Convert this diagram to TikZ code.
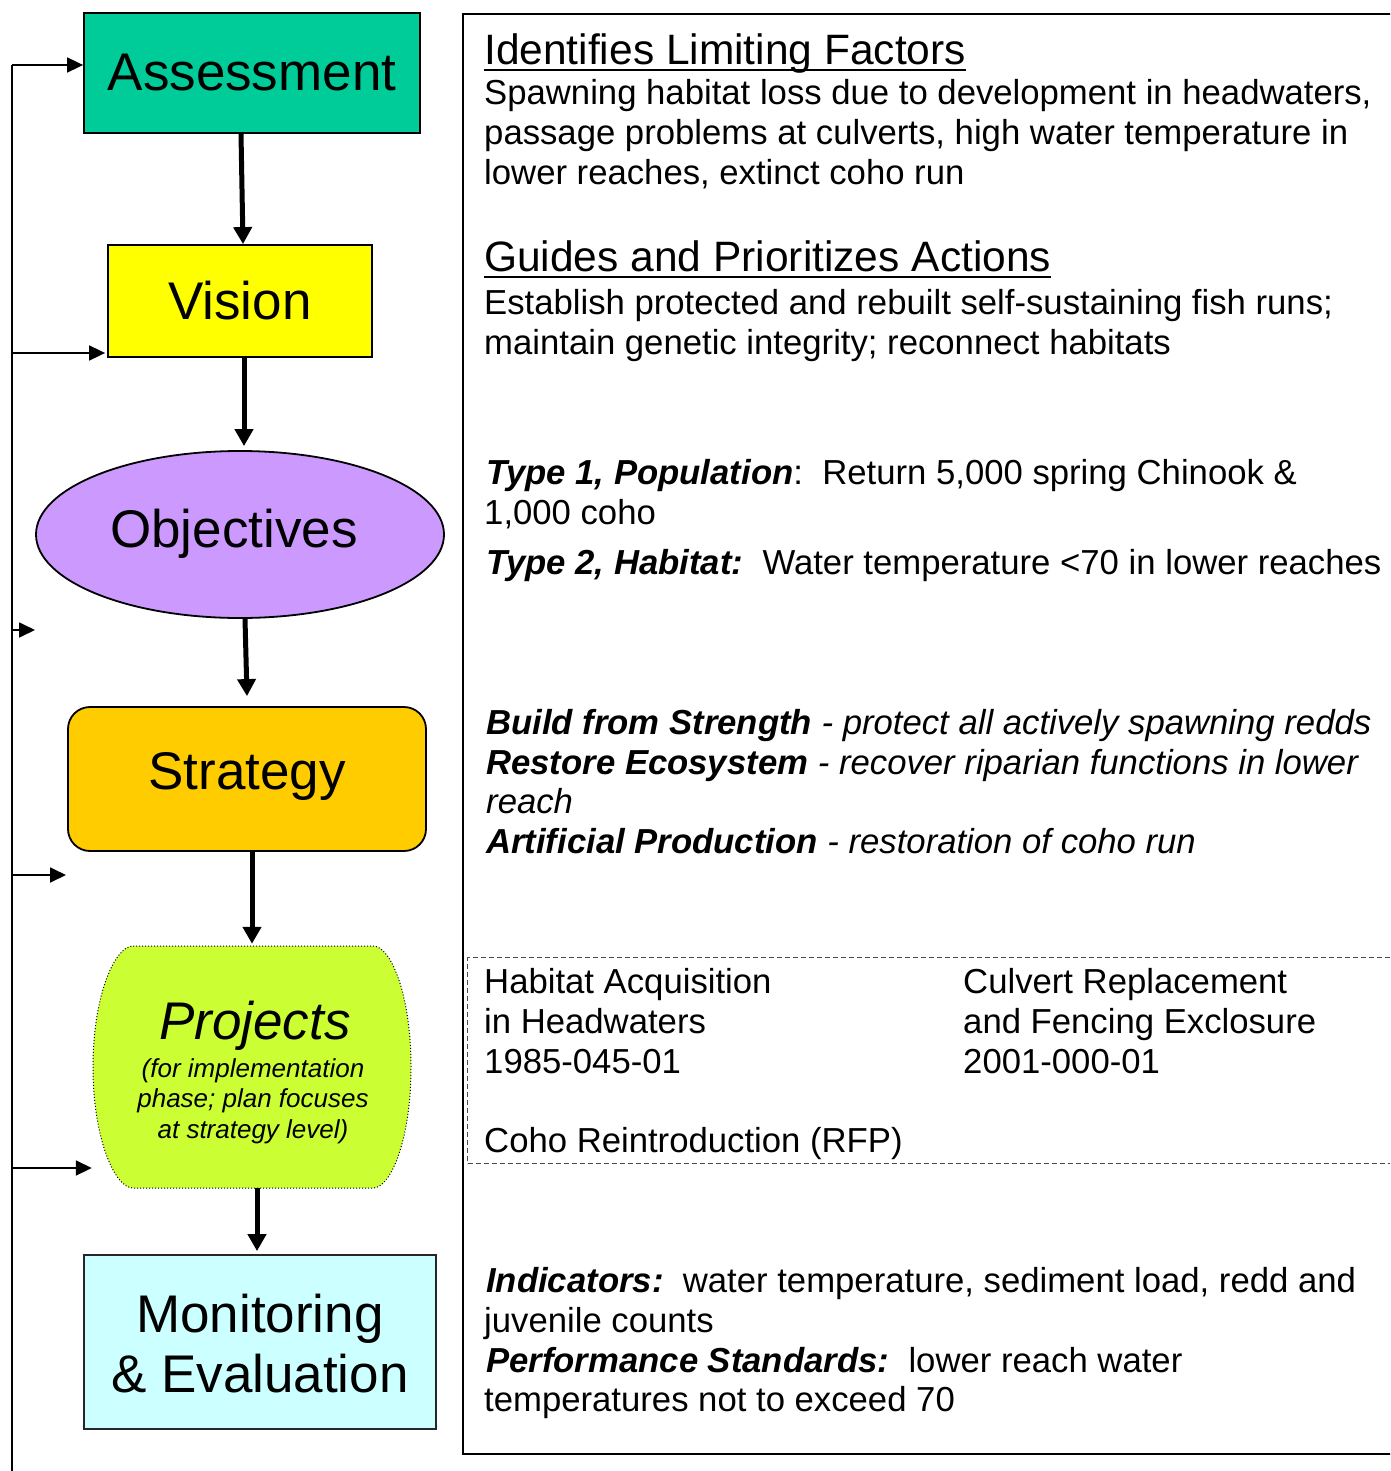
\documentclass[tikz,border=0pt]{standalone}
\usepackage{fontspec}
\setmainfont{Liberation Sans}
\usetikzlibrary{arrows.meta,shapes.geometric}
\definecolor{assesscol}{HTML}{00CC99}
\definecolor{visioncol}{HTML}{FFFF00}
\definecolor{objcol}{HTML}{CC99FF}
\definecolor{stratcol}{HTML}{FFCC00}
\definecolor{projcol}{HTML}{CCFF33}
\definecolor{mecol}{HTML}{CCFFFF}
\begin{document}
\begin{tikzpicture}[x=1pt,y=-1pt,
  box/.style={draw=black, line width=1.8pt, inner sep=0pt, font=\fontsize{53}{60}\selectfont},
  flow/.style={line width=5pt, -{Triangle[width=18pt,length=17pt]}},
  fb/.style={line width=1.8pt, -{Triangle[width=15pt,length=16pt]}},
  txt/.style={anchor=base west, inner sep=0pt, font=\fontsize{34.7}{40}\selectfont},
  headtxt/.style={anchor=base west, inner sep=0pt, font=\fontsize{42.5}{48}\selectfont},
  bigtxt/.style={anchor=base, inner sep=0pt, font=\fontsize{53}{60}\selectfont},
  smalltxt/.style={anchor=base, inner sep=0pt, font=\fontsize{26}{31}\selectfont\itshape}]
\useasboundingbox (0,0) rectangle (1390,1471);
\clip (0,0) rectangle (1390,1471);
\fill[white] (0,0) rectangle (1390,1471);

% right frames
\node[draw=black, line width=1.8pt, anchor=north west, inner sep=0pt, minimum width=960, minimum height=1440] (rb) at (462,13) {};
\node[draw=black!70, line width=1.3pt, dash pattern=on 5pt off 3pt, anchor=north west, inner sep=0pt, minimum width=950, minimum height=206] (db) at (467,957) {};

% flow nodes
\node[box, fill=assesscol, minimum width=336, minimum height=120] (a) at (252,73) {Assessment};
\node[box, fill=visioncol, minimum width=264, minimum height=112] (v) at (240,301) {Vision};
\node[box, ellipse, fill=objcol, minimum width=408, minimum height=167] (o) at (240,534.5) {};
\node[bigtxt] (ot) at (234,547) {Objectives};
\node[box, rounded corners=22pt, fill=stratcol, minimum width=358, minimum height=144] (s) at (247,779) {};
\node[bigtxt] (st) at (247,789) {Strategy};
\node[inner sep=0pt, minimum width=318, minimum height=242] (p) at (252,1067) {};
\draw[dotted, line width=1pt, fill=projcol] (133,946) -- (373,946)
  .. controls (391,946) and (411,995) .. (411,1067)
  .. controls (411,1139) and (391,1188) .. (373,1188) -- (133,1188)
  .. controls (115,1188) and (93,1139) .. (93,1067)
  .. controls (93,995) and (115,946) .. (133,946) -- cycle;
\node[bigtxt, font=\fontsize{53}{60}\selectfont\itshape] (pt) at (255,1039) {Projects};
\node[smalltxt] (ps1) at (253,1077) {(for implementation};
\node[smalltxt] (ps2) at (253,1107) {phase; plan focuses};
\node[smalltxt] (ps3) at (253,1138) {at strategy level)};
\node[box, draw=black!85, fill=mecol, minimum width=352, minimum height=174] (m) at (260,1342) {};
\node[bigtxt] (mt1) at (260,1332) {Monitoring};
\node[bigtxt] (mt2) at (260,1392) {\& Evaluation};

% flow arrows
\draw[flow] ([xshift=-11pt]a.south) -- ([xshift=3pt]v.north);
\draw[flow] ([xshift=4pt]v.south) -- ([xshift=4pt,yshift=4pt]o.north);
\draw[flow] ([xshift=5pt]o.south) -- ([yshift=10pt]s.north);
\draw[flow] ([xshift=5pt]s.south) -- ([yshift=2pt]p.north);
\draw[flow] ([xshift=5pt]p.south) -- ([xshift=-3pt,yshift=3pt]m.north);

% feedback loop
\coordinate (fbbot) at (12,1471);
\coordinate (fbtop) at (12,65);
\coordinate (f2) at (12,353);
\coordinate (f3) at (12,630);
\coordinate (f3e) at (35,630);
\coordinate (f4) at (12,875);
\coordinate (f4e) at (66,875);
\coordinate (f5) at (12,1168);
\draw[line width=1.8pt] (fbbot) -- (fbtop);
\draw[fb] (fbtop) -- (a.west |- fbtop);
\draw[fb] (f2) -- ([xshift=-2pt]v.west |- f2);
\draw[fb] (f3) -- (f3e);
\draw[fb] (f4) -- (f4e);
\draw[fb] (f5) -- ([xshift=-1pt]p.west |- f5);

% right-hand text
\node[headtxt] (h1) at (484,65) {Identifies Limiting Factors};
\draw[line width=2.6pt] ([yshift=-5pt]h1.base west) -- ([yshift=-5pt]h1.base east);
\node[txt] (t1) at (484,105) {Spawning habitat loss due to development in headwaters,};
\node[txt] (t2) at (484,145) {passage problems at culverts, high water temperature in};
\node[txt] (t3) at (484,185) {lower reaches, extinct coho run};

\node[headtxt] (h2) at (484,272) {Guides and Prioritizes Actions};
\draw[line width=2.6pt] ([yshift=-5pt]h2.base west) -- ([yshift=-5pt]h2.base east);
\node[txt] (t4) at (484,314) {Establish protected and rebuilt self-sustaining fish runs;};
\node[txt] (t5) at (484,354) {maintain genetic integrity; reconnect habitats};

\node[txt] (t6) at (486,484) {\textbf{\textit{Type 1, Population}}:\ \ Return 5,000 spring Chinook \&};
\node[txt] (t7) at (484,524) {1,000 coho};
\node[txt] (t8) at (486,574) {\textbf{\textit{Type 2, Habitat:}}\ \ Water temperature <70 in lower reaches};

\node[txt] (t9) at (486,734) {\textbf{\textit{Build from Strength}} \textit{- protect all actively spawning redds}};
\node[txt] (t10) at (486,774) {\textbf{\textit{Restore Ecosystem}} \textit{- recover riparian functions in lower}};
\node[txt] (t11) at (486,813) {\textit{reach}};
\node[txt] (t12) at (486,853) {\textbf{\textit{Artificial Production}} \textit{- restoration of coho run}};

\node[txt] (t13) at (484,993) {Habitat Acquisition};
\node[txt] (t14) at (484,1033) {in Headwaters};
\node[txt] (t15) at (484,1073) {1985-045-01};
\node[txt] (t16) at (963,993) {Culvert Replacement};
\node[txt] (t17) at (963,1033) {and Fencing Exclosure};
\node[txt] (t18) at (963,1073) {2001-000-01};
\node[txt] (t19) at (484,1152) {Coho Reintroduction (RFP)};

\node[txt] (t20) at (486,1292) {\textbf{\textit{Indicators:}}\ \ water temperature, sediment load, redd and};
\node[txt] (t21) at (484,1332) {juvenile counts};
\node[txt] (t22) at (486,1372) {\textbf{\textit{Performance Standards:}}\ \ lower reach water};
\node[txt] (t23) at (484,1411) {temperatures not to exceed 70};
\end{tikzpicture}
\end{document}
